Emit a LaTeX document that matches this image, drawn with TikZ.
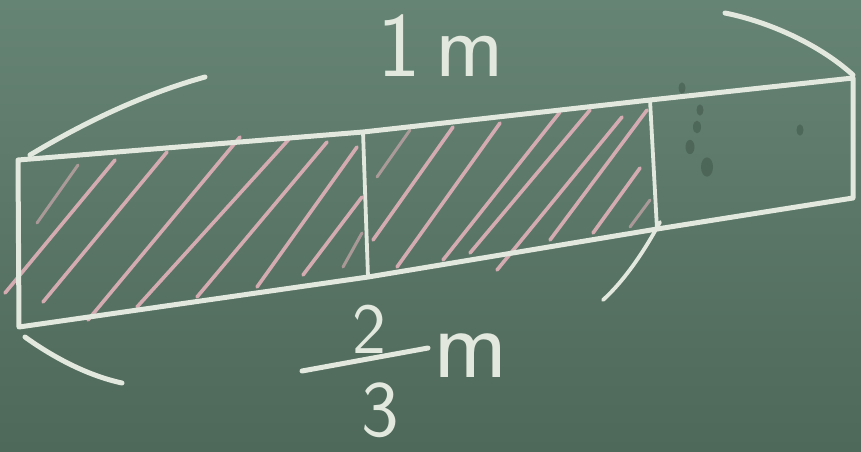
\documentclass[tikz,border=0pt]{standalone}
\usepackage{fontspec}
\definecolor{chalkwhite}{RGB}{226,232,222}
\definecolor{chalkpink}{RGB}{222,176,184}
\definecolor{boardtop}{RGB}{102,132,116}
\definecolor{boardbot}{RGB}{78,104,89}
\definecolor{smudge}{RGB}{52,72,60}
\begin{document}
\begin{tikzpicture}[x=1pt,y=-1pt,
  chalk/.style={draw=chalkwhite, line width=5pt, line cap=round, line join=round},
  thinchalk/.style={draw=chalkwhite, line width=3.8pt, line cap=round},
  hatch/.style={draw=chalkpink, line width=3.6pt, line cap=round, opacity=0.92},
  faint/.style={draw=chalkpink, line width=3pt, line cap=round, opacity=0.6},
  chalktext/.style={text=chalkwhite, inner sep=0pt}]
\useasboundingbox (0,0) rectangle (861,451);
\shade[top color=boardtop, bottom color=boardbot] (0,0) rectangle (861,451);

% smudges
\foreach \p/\r in {{(700,110)}/3.5, {(697,127)}/4, {(690,147)}/4.5, {(707,167)}/6, {(800,130)}/3.5, {(682,88)}/3.5}
  \fill[smudge, opacity=0.4] \p ellipse ({\r pt} and {1.6*\r pt});

% corners
\coordinate (TL) at (18,160);
\coordinate (T1) at (363,132);
\coordinate (T2) at (650,100);
\coordinate (TR) at (853,78);
\coordinate (BL) at (19,327);
\coordinate (B1) at (368,277);
\coordinate (B2) at (657,229);
\coordinate (BR) at (853,198);

% hatching, left part
\draw[faint] (37,223) -- (78,165);
\draw[hatch] (5,293) -- (115,160);
\draw[hatch] (43,302) -- (167,152);
\draw[hatch] (88,320) -- (240,137);
\draw[hatch] (137,307) -- (290,138);
\draw[hatch] (197,297) -- (327,142);
\draw[hatch] (257,287) -- (357,147);
\draw[hatch] (303,275) -- (362,197);
\draw[faint] (343,267) -- (362,233);
% hatching, middle part
\draw[faint] (377,177) -- (410,130);
\draw[hatch] (373,240) -- (453,127);
\draw[hatch] (397,267) -- (500,123);
\draw[hatch] (443,260) -- (560,112);
\draw[hatch] (470,253) -- (590,110);
\draw[hatch] (497,270) -- (622,117);
\draw[hatch] (550,240) -- (647,110);
\draw[hatch] (593,233) -- (640,168);
\draw[faint] (630,227) -- (650,200);

% the bar
\draw[chalk] (TL) -- (T1) -- (T2) -- (TR) -- (BR) -- (B2) -- (B1) -- (BL) -- cycle;
\draw[thinchalk] (T1) -- (B1);
\draw[thinchalk] (T2) -- (B2);

% brace arcs
\draw[chalk] (30,155) .. controls (80,125) and (140,95) .. (205,77);
\draw[chalk] (725,13) .. controls (770,22) and (820,45) .. (853,75);
\draw[chalk] (25,337) .. controls (50,355) and (85,375) .. (122,383);
\draw[thinchalk] (660,222) .. controls (645,250) and (625,280) .. (603,300);

% labels
\node[chalktext, anchor=base west, font=\sffamily\fontsize{92}{92}\selectfont] (whole) at (377,76) {1\kern-14pt\ m};
\node[chalktext, font=\sffamily\fontsize{72}{72}\selectfont] (num) at (369,329) {2};
\node[chalktext, font=\sffamily\fontsize{80}{80}\selectfont] (den) at (380,410) {3};
\node[chalktext, font=\sffamily\fontsize{100}{100}\selectfont] (unit) at (471,356) {m};
\coordinate (barL) at (302,371);
\coordinate (barR) at (428,348);
\draw[chalk] (barL) -- (barR);
\end{tikzpicture}
\end{document}
